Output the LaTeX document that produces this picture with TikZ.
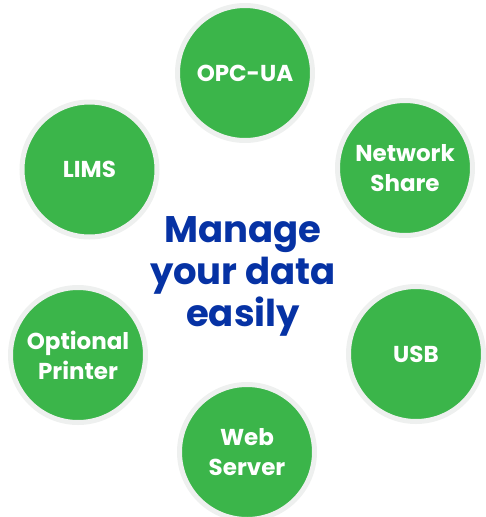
\documentclass[tikz,border=0pt]{standalone}
\usepackage{fontspec}
\setmainfont{Poppins}
\usepackage{tikz}
\usetikzlibrary{shapes,positioning}
\definecolor{hubgreen}{HTML}{3BB54A}
\definecolor{hubring}{HTML}{EEF0EF}
\definecolor{hubblue}{HTML}{0632A4}

\begin{document}
\begin{tikzpicture}[x=1pt,y=-1pt,
  source/.style={circle, draw=hubring, line width=5pt, fill=hubgreen, minimum size=135pt, inner sep=0pt,
    text=white, align=center, font=\fontsize{23}{30}\selectfont\bfseries}]
\useasboundingbox (0,0) rectangle (485,517);
\node (opcua) [source] at (245,73) {OPC-UA};
\node (lims) [source] at (89.5,169.5) {LIMS};
\node (share) [source] at (405,168) {Network\\Share};
\node (printer) [source] at (78,355) {Optional\\Printer};
\node (usb) [source] at (416,354) {USB};
\node (web) [source] at (247,452) {Web\\Server};

\node (manage) [text=hubblue, align=center, font=\fontsize{37}{42}\selectfont\bfseries] at (243,276) {Manage\\your data\\easily};
\end{tikzpicture}
\end{document}
